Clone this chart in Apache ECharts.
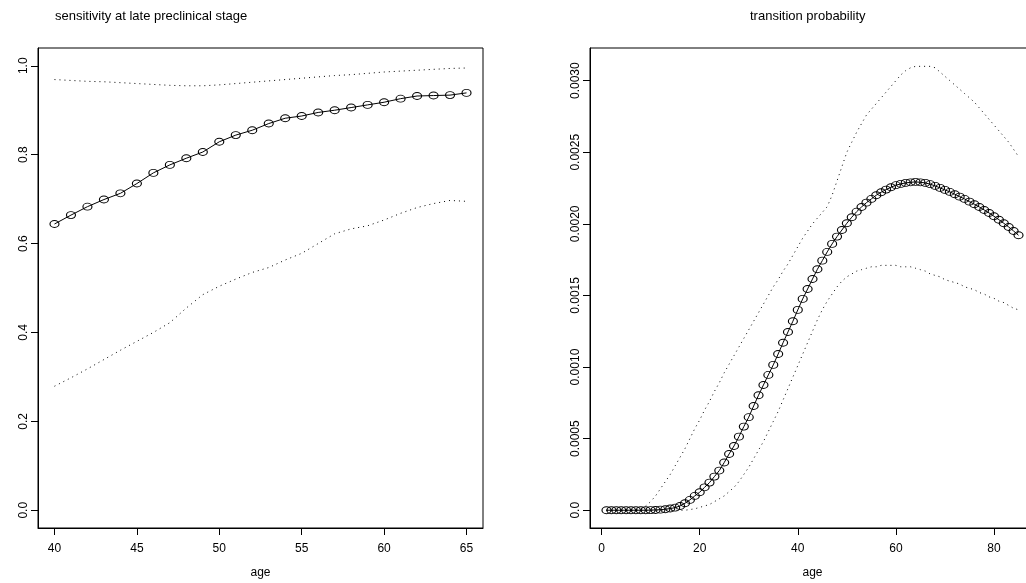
<!DOCTYPE html>
<html>
<head>
<meta charset="utf-8">
<title>sensitivity and transition probability</title>
<script src="https://cdn.jsdelivr.net/npm/echarts@6/dist/echarts.min.js"></script>
<style>
html, body { margin: 0; padding: 0; background: #fff; }
#main { width: 1026px; height: 583px; }
</style>
</head>
<body>
<div id="main"></div>
<script>
// left panel: sensitivity by age
var leftAges = [40, 41, 42, 43, 44, 45, 46, 47, 48, 49, 50, 51, 52, 53, 54, 55, 56, 57, 58, 59, 60, 61, 62, 63, 64, 65];
var leftSens = [0.644, 0.664, 0.683, 0.699, 0.713, 0.735, 0.759, 0.777, 0.792, 0.806, 0.829, 0.844, 0.855,
    0.870, 0.882, 0.887, 0.895, 0.900, 0.906, 0.912, 0.918, 0.926, 0.932, 0.933, 0.934, 0.939];
var leftUpper = [0.969, 0.967, 0.965, 0.964, 0.962, 0.960, 0.958, 0.956, 0.955, 0.955, 0.957, 0.960, 0.963,
    0.966, 0.969, 0.972, 0.975, 0.978, 0.980, 0.983, 0.986, 0.988, 0.990, 0.992, 0.994, 0.995];
var leftLower = [0.279, 0.298, 0.318, 0.339, 0.360, 0.380, 0.400, 0.422, 0.455, 0.485, 0.504, 0.520, 0.535,
    0.546, 0.563, 0.578, 0.600, 0.622, 0.633, 0.640, 0.653, 0.668, 0.681, 0.690, 0.697, 0.695];
var leftXTicks = [40, 45, 50, 55, 60, 65];
var leftYTicks = [0, 0.2, 0.4, 0.6, 0.8, 1.0];

// right panel: transition probability by age
var rightAges = [1, 2, 3, 4, 5, 6, 7, 8, 9, 10, 11, 12, 13, 14, 15, 16, 17, 18, 19, 20,
    21, 22, 23, 24, 25, 26, 27, 28, 29, 30, 31, 32, 33, 34, 35, 36, 37, 38, 39, 40,
    41, 42, 43, 44, 45, 46, 47, 48, 49, 50, 51, 52, 53, 54, 55, 56, 57, 58, 59, 60,
    61, 62, 63, 64, 65, 66, 67, 68, 69, 70, 71, 72, 73, 74, 75, 76, 77, 78, 79, 80,
    81, 82, 83, 84, 85];
var rightProb = [0, 0, 0, 0, 0, 0, 0, 0, 0, 0.000001,
    0.000002, 0.000004, 0.000007, 0.000012, 0.000018, 0.00003, 0.000049, 0.000072, 0.0001, 0.000126,
    0.00016, 0.000193, 0.000235, 0.000277, 0.000333, 0.000393, 0.000449, 0.000514, 0.000584, 0.00065,
    0.000728, 0.000803, 0.000875, 0.000945, 0.001015, 0.001091, 0.00117, 0.001245, 0.00132, 0.001399,
    0.001476, 0.001545, 0.001615, 0.001683, 0.001743, 0.001804, 0.00186, 0.001911, 0.001957, 0.002004,
    0.002046, 0.002085, 0.002118, 0.002148, 0.002174, 0.0022, 0.002221, 0.002239, 0.002256, 0.00227,
    0.002279, 0.002286, 0.00229, 0.002293, 0.00229, 0.002286, 0.002277, 0.002265, 0.002251, 0.002237,
    0.002223, 0.002207, 0.00219, 0.002174, 0.002155, 0.002137, 0.002118, 0.002097, 0.002076, 0.002053,
    0.002029, 0.002004, 0.001978, 0.00195, 0.00192];
var rightUpper = [0, 0, 0, 0, 0, 0, 0, 0.00001, 0.00003, 0.00006,
    0.0001, 0.00015, 0.0002, 0.00025, 0.00031, 0.00037, 0.00043, 0.0005, 0.00057, 0.00063,
    0.0007, 0.00076, 0.00083, 0.00089, 0.00096, 0.00102, 0.00108, 0.00114, 0.0012, 0.00126,
    0.00132, 0.00138, 0.00144, 0.0015, 0.00156, 0.00161, 0.00167, 0.00172, 0.00178, 0.00184,
    0.0019, 0.00195, 0.002, 0.00204, 0.00208, 0.00212, 0.0022, 0.0023, 0.0024, 0.0025,
    0.00257, 0.00264, 0.0027, 0.00276, 0.0028, 0.00284, 0.00288, 0.00292, 0.00296, 0.003,
    0.00304, 0.00307, 0.00309, 0.0031, 0.0031, 0.0031, 0.0031, 0.00309, 0.00306, 0.00303,
    0.003, 0.00297, 0.00294, 0.00291, 0.00288, 0.00285, 0.00281, 0.00277, 0.00273, 0.00269,
    0.00265, 0.00261, 0.00257, 0.00252, 0.00247];
var rightLower = [0, 0, 0, 0, 0, 0, 0, 0, 0, 0,
    0, 0, 0, 0, 0, 0, 0, 0.000005, 0.00001, 0.00002,
    0.00003, 0.00004, 0.00006, 0.00008, 0.0001, 0.00013, 0.00016, 0.0002, 0.00025, 0.0003,
    0.00036, 0.00042, 0.00048, 0.00055, 0.00062, 0.00069, 0.00077, 0.00085, 0.00093, 0.00101,
    0.00109, 0.00117, 0.00125, 0.00133, 0.0014, 0.00146, 0.00151, 0.00156, 0.0016, 0.00163,
    0.00165, 0.00167, 0.00168, 0.00169, 0.0017, 0.0017, 0.00171, 0.00171, 0.00171, 0.00171,
    0.0017, 0.0017, 0.0017, 0.00169, 0.00168, 0.00167, 0.00165, 0.00164, 0.00163, 0.00161,
    0.0016, 0.00159, 0.00158, 0.00156, 0.00155, 0.00154, 0.00152, 0.00151, 0.00149, 0.00148,
    0.00146, 0.00145, 0.00143, 0.00141, 0.0014];
var rightXTicks = [0, 20, 40, 60, 80];
var rightYTicks = [0, 0.0005, 0.001, 0.0015, 0.002, 0.0025, 0.003];

var font = 'Liberation Sans, Arial, Helvetica, sans-serif';

function pairs(xs, ys) {
    return xs.map(function (x, i) { return [x, ys[i]]; });
}

function xAxisOf(idx, min, max, ticks) {
    return {
        type: 'value', gridIndex: idx, min: min, max: max,
        name: 'age', nameLocation: 'middle', nameGap: 39,
        nameTextStyle: { color: '#000', fontSize: 12, fontFamily: font },
        axisLine: { show: true, onZero: false, lineStyle: { color: '#000', width: 1 } },
        axisTick: { show: true, length: 7, customValues: ticks, lineStyle: { color: '#000', width: 1 } },
        axisLabel: { customValues: ticks, margin: 15, color: '#000', fontSize: 12, fontFamily: font },
        splitLine: { show: false }
    };
}

function yAxisOf(idx, min, max, ticks, fmt) {
    return {
        type: 'value', gridIndex: idx, min: min, max: max,
        axisLine: { show: true, onZero: false, lineStyle: { color: '#000', width: 1 } },
        axisTick: { show: true, length: 7, customValues: ticks, lineStyle: { color: '#000', width: 1 } },
        axisLabel: { customValues: ticks, rotate: 90, margin: 8, formatter: fmt,
            color: '#000', fontSize: 12, fontFamily: font },
        splitLine: { show: false }
    };
}

function mainLine(idx, xs, ys) {
    return {
        type: 'line', xAxisIndex: idx, yAxisIndex: idx, data: pairs(xs, ys),
        symbol: 'circle', symbolSize: [9, 7], showSymbol: true,
        itemStyle: { color: 'transparent', borderColor: '#000', borderWidth: 1 },
        lineStyle: { color: '#000', width: 1 }
    };
}

function dotLine(idx, xs, ys) {
    return {
        type: 'line', xAxisIndex: idx, yAxisIndex: idx, data: pairs(xs, ys),
        symbol: 'none',
        lineStyle: { color: '#000', width: 1, type: [1, 4] }
    };
}

var myChart = echarts.init(document.getElementById('main'));

var option = {
    backgroundColor: '#fff',
    animation: false,
    title: [
        { text: 'sensitivity at late preclinical stage', left: 55, top: 10, padding: 0,
          textStyle: { fontSize: 13, fontWeight: 'normal', color: '#000', fontFamily: font } },
        { text: 'transition probability', left: 750, top: 10, padding: 0,
          textStyle: { fontSize: 13, fontWeight: 'normal', color: '#000', fontFamily: font } }
    ],
    grid: [
        { left: 38, top: 48, width: 445, height: 480, show: true, borderColor: '#000', borderWidth: 1,
          outerBoundsMode: 'none' },
        { left: 590, top: 48, width: 445, height: 480, show: true, borderColor: '#000', borderWidth: 1,
          outerBoundsMode: 'none' }
    ],
    xAxis: [
        xAxisOf(0, 39, 66, leftXTicks),
        xAxisOf(1, -2.36, 88.36, rightXTicks)
    ],
    yAxis: [
        yAxisOf(0, -0.04, 1.04, leftYTicks, function (v) { return v.toFixed(1); }),
        yAxisOf(1, -0.000124, 0.003228, rightYTicks, function (v) { return v === 0 ? '0.0' : v.toFixed(4); })
    ],
    series: [
        dotLine(0, leftAges, leftUpper),
        dotLine(0, leftAges, leftLower),
        mainLine(0, leftAges, leftSens),
        dotLine(1, rightAges, rightUpper),
        dotLine(1, rightAges, rightLower),
        mainLine(1, rightAges, rightProb)
    ]
};

myChart.setOption(option);
</script>
</body>
</html>
